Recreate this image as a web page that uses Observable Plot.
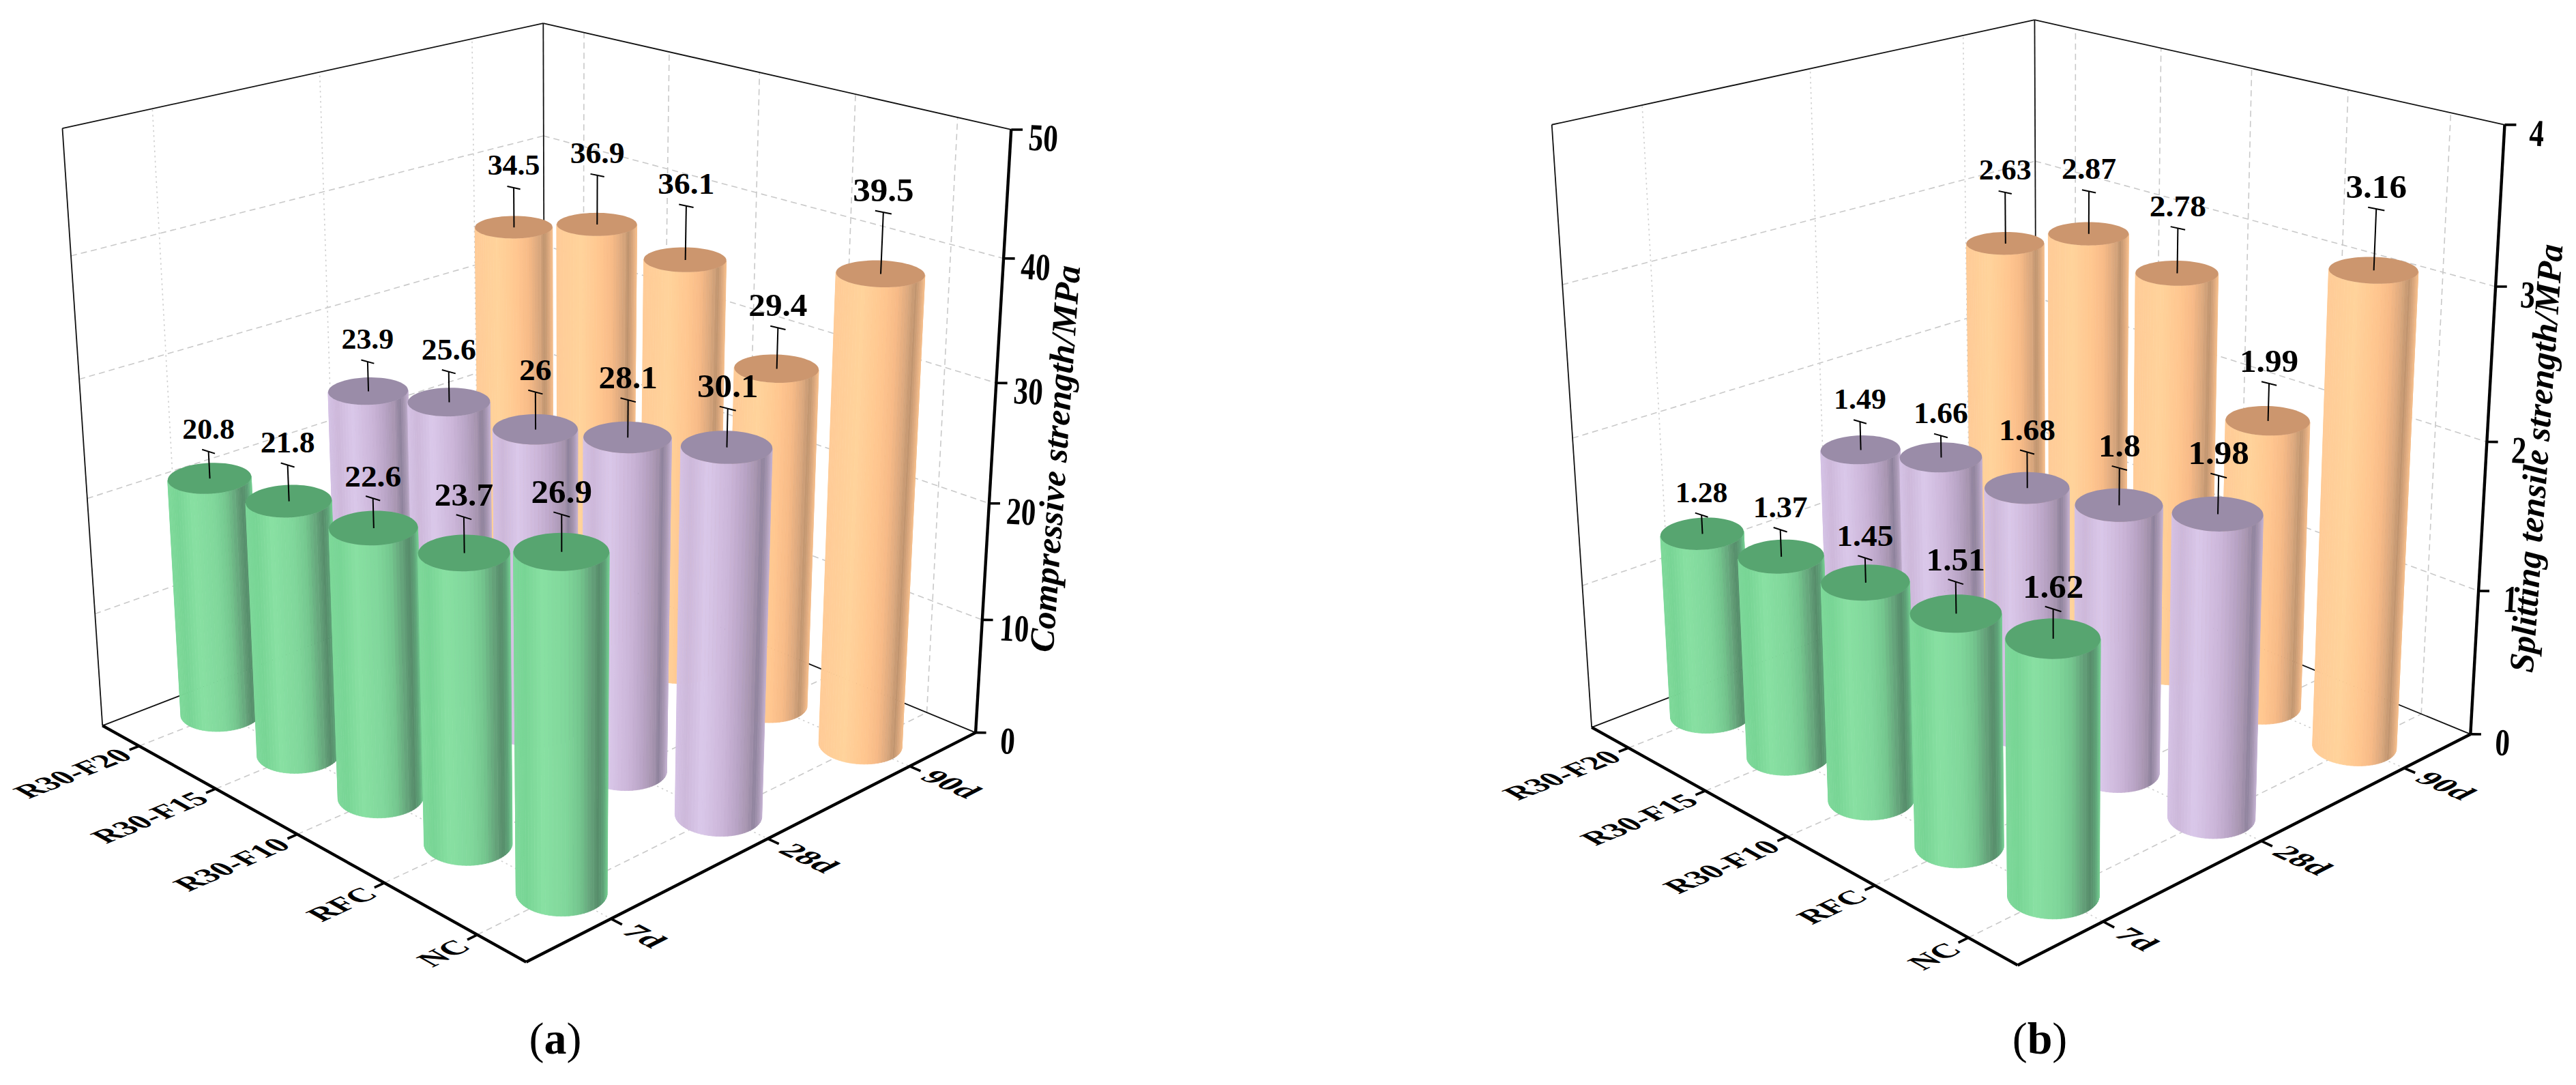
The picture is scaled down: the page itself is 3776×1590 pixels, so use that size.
<!DOCTYPE html>
<html>
<head>
<meta charset="utf-8">
<script src="https://cdn.jsdelivr.net/npm/d3@7"></script>
<script src="https://cdn.jsdelivr.net/npm/@observablehq/plot@0.6"></script>
<style>
html,body{margin:0;padding:0;background:#fff;}
#page{display:flex;width:3776px;height:1590px;}
.panel{width:1888px;height:1590px;position:relative;}
.panel svg{display:block;max-width:none;}
.cap{position:absolute;top:1474px;transform:translateX(-50%);font:66px "Liberation Serif",serif;color:#000;line-height:96px;}
</style>
</head>
<body>
<div id="page"></div>
<script>
const categories = ["R30-F20","R30-F15","R30-F10","RFC","NC"];
const ages = ["7d","28d","90d"];

const compressive7d  = [20.8,21.8,22.6,23.7,26.9];
const compressive28d = [23.9,25.6,26,28.1,30.1];
const compressive90d = [34.5,36.9,36.1,29.4,39.5];
const compressiveErr7d  = [2.3,3,2.4,2.8,2.8];
const compressiveErr28d = [2.6,2.6,3.1,3,3];
const compressiveErr90d = [3.5,4.2,4.5,3.4,4.8];
const compressiveTicks = [0,10,20,30,40,50];

const tensile7d  = [1.28,1.37,1.45,1.51,1.62];
const tensile28d = [1.49,1.66,1.68,1.8,1.98];
const tensile90d = [2.63,2.87,2.78,1.99,3.16];
const tensileErr7d  = [0.13,0.18,0.16,0.2,0.18];
const tensileErr28d = [0.2,0.15,0.24,0.24,0.24];
const tensileErr90d = [0.36,0.29,0.3,0.25,0.38];
const tensileTicks = [0,1,2,3,4];

const shadeStops  = [0,.12,.3,.55,.7,.83,.9,.96,1];
const sideGreen   = ["#7ED99A","#78D595","#88E0A2","#80D79B","#74C68E","#639F78","#568C6A","#5EA378","#72CC8F"];
const sidePurple  = ["#D5C2E5","#CDB8DA","#DAC8EA","#CBB5D8","#BAA5C7","#A795B0","#8E829C","#A898B4","#C3B0D0"];
const sideOrange  = ["#FFCB97","#FFCE98","#FFD39B","#FFC68F","#F7BA87","#D9A77D","#BF946F","#DDA97E","#F5BE8B"];
const sideRamps   = [sideGreen,sidePurple,sideOrange];
const topColors   = ["#57A570","#9A8CA8","#CC966E"];

// camera anchors: [X, Y, Z, screen x, screen y] for the corners of the unit box
const anchorsA = [[0,0,0,150.5,1062.7],[1,0,0,770.6,1409.5],[1,1,0,1430.4,1072.8],[0,1,0,797,813],
                  [0,0,1,90.3,187.6],[1,1,1,1481,189.6],[0,1,1,797,33.5]];
const anchorsB = [[0,0,0,445.5,1064.7],[1,0,0,1069,1414.5],[1,1,0,1733.8,1074.8],[0,1,0,1095.6,815],
                  [0,0,1,385.3,182.5],[1,1,1,1781.9,182.5],[0,1,1,1095.6,28.4]];

function fitCamera(anchors){
  const rows=[],rhs=[];
  for(const [X,Y,Z,u0,v0] of anchors){
    const u=u0/1000,v=v0/1000;
    rows.push([X,Y,Z,1,0,0,0,0,-u*X,-u*Y,-u*Z]);rhs.push(u);
    rows.push([0,0,0,0,X,Y,Z,1,-v*X,-v*Y,-v*Z]);rhs.push(v);
  }
  const n=11,A=[];
  for(let i=0;i<n;i++){
    const r=new Array(n+1).fill(0);
    for(let k=0;k<rows.length;k++){
      for(let j=0;j<n;j++) r[j]+=rows[k][i]*rows[k][j];
      r[n]+=rows[k][i]*rhs[k];
    }
    r[i]+=1e-10;
    A.push(r);
  }
  for(let i=0;i<n;i++){
    let p=i;for(let k=i+1;k<n;k++) if(Math.abs(A[k][i])>Math.abs(A[p][i])) p=k;
    [A[i],A[p]]=[A[p],A[i]];
    for(let k=0;k<n;k++) if(k!==i){
      const f=A[k][i]/A[i][i];
      for(let j=i;j<=n;j++) A[k][j]-=f*A[i][j];
    }
  }
  return A.map((r,i)=>r[n]/r[i]);
}

function panel(cfg){
  const P=fitCamera(cfg.anchors), W=1888, H=1474;
  const proj=(X,Y,Z)=>{const w=P[8]*X+P[9]*Y+P[10]*Z+1;
    return [1000*(P[0]*X+P[1]*Y+P[2]*Z+P[3])/w,1000*(P[4]*X+P[5]*Y+P[6]*Z+P[7])/w];};
  const catX=i=>(i+.5)/categories.length, ageY=j=>(j+.5)/ages.length;
  const zMax=cfg.ticks[cfg.ticks.length-1], zv=v=>v/zMax;
  const seg=(a,b)=>{const p=proj(...a),q=proj(...b);return {x1:p[0],y1:p[1],x2:q[0],y2:q[1]};};
  const link=(rows,o)=>Plot.link(rows,{x1:"x1",y1:"y1",x2:"x2",y2:"y2",...o});

  const gridZ=cfg.ticks.filter(t=>t>0&&t<zMax);
  const dashed=[
    ...gridZ.map(t=>seg([0,0,zv(t)],[0,1,zv(t)])),
    ...gridZ.map(t=>seg([0,1,zv(t)],[1,1,zv(t)])),
    ...categories.map((c,i)=>seg([catX(i),1,0],[catX(i),1,1])),
    ...categories.map((c,i)=>seg([catX(i),0,0],[catX(i),1,0]))
  ];
  const dotted=[
    ...ages.map((a,j)=>seg([0,ageY(j),0],[0,ageY(j),1])),
    ...ages.map((a,j)=>seg([0,ageY(j),0],[1,ageY(j),0]))
  ];
  const frame=[seg([0,0,0],[0,0,1]),seg([0,0,1],[0,1,1]),seg([0,1,1],[1,1,1]),
               seg([0,1,1],[0,1,0]),seg([0,0,0],[0,1,0]),seg([0,1,0],[1,1,0])];
  const axes=[seg([0,0,0],[1,0,0]),seg([1,0,0],[1,1,0]),seg([1,1,0],[1,1,1])];
  const ticks=[
    ...categories.map((c,i)=>seg([catX(i),0,0],[catX(i),-.019,0])),
    ...ages.map((a,j)=>seg([1,ageY(j),0],[1.022,ageY(j),0])),
    ...cfg.ticks.map(t=>seg([1,1,zv(t)],[1.012,1.012,zv(t)]))
  ];

  // text that lies in the chart's planes: its rows carry a 2x2 matrix applied after the plot is built
  const warpedRows=[];
  const warpText=(rows,o)=>{warpedRows.push(rows);
    return Plot.text(rows,{x:"x",y:"y",text:"text",fontWeight:"bold",fontFamily:"Liberation Serif",fill:"#000",...o});};

  const dir=(a,b)=>{const p=proj(...a),q=proj(...b),l=Math.hypot(q[0]-p[0],q[1]-p[1]);return [(q[0]-p[0])/l,(q[1]-p[1])/l];};
  const catLabels=categories.map((c,i)=>{
    const p=proj(catX(i)+.004,-.029,0);
    const u=dir([catX(i),0,0],[catX(i),1,0]), d=dir([catX(i),0,0],[1,0,0]);
    return {x:p[0],y:p[1],text:c,m:[u[0]*1.03,u[1]*1.03,d[0],d[1]]};
  });
  const ageLabels=ages.map((a,j)=>{
    const p=proj(1.035,ageY(j),0);
    const u=dir([0,ageY(j),0],[1,ageY(j),0]), d=dir([1,ageY(j),0],[1,0,0]);
    return {x:p[0],y:p[1],text:a,m:[u[0]*1.12,u[1]*1.12,d[0],d[1]]};
  });
  const zLabels=cfg.ticks.map(t=>{
    const p=proj(1,1,zv(t));
    const up=dir([1,1,zv(t)],[1,1,zv(t)+.1]);
    return {x:p[0],y:p[1],text:String(t),m:[1,.05,-up[0]*1.3,-up[1]*1.3]};
  });

  const marks=[
    link(dashed,{stroke:"#c9c9c9",strokeWidth:1.6,strokeDasharray:"9 6"}),
    link(dotted,{stroke:"#cfcfcf",strokeWidth:1.6,strokeDasharray:"2.5 5"}),
    link(frame,{stroke:"#111",strokeWidth:1.8})
  ];

  // cylinders, drawn from the back row forward
  const rad=.066, N=72;
  for(let j=ages.length-1;j>=0;j--){
    const shade=d3.scaleLinear().domain(shadeStops).range(sideRamps[j]).clamp(true);
    categories.forEach((c,i)=>{
      const X=catX(i),Y=ageY(j),v=cfg.values[j][i],Z=zv(v),e=cfg.errors[j][i];
      const pt=(th,z)=>proj(X+rad*Math.cos(th),Y+rad*Math.sin(th),z);
      const area=th0=>{const th1=th0+2*Math.PI/N;
        const a=pt(th0,0),b=pt(th1,0),c2=pt(th1,Z),d=pt(th0,Z);
        return (a[0]*b[1]-b[0]*a[1])+(b[0]*c2[1]-c2[0]*b[1])+(c2[0]*d[1]-d[0]*c2[1])+(d[0]*a[1]-a[0]*d[1]);};
      const sign=Math.sign(area(-Math.PI/4));
      const xs=d3.range(N).map(k=>pt(2*Math.PI*k/N,Z)[0]);
      const x0=d3.min(xs),x1=d3.max(xs);
      const facets=[];
      for(let k=0;k<N;k++){
        const th0=2*Math.PI*k/N,th1=2*Math.PI*(k+1)/N;
        if(area(th0)*sign<=0) continue;
        const t0=pt(th0,Z),t1=pt(th1,Z),b0=pt(th0,0),b1=pt(th1,0);
        const u=((t0[0]+t1[0])/2-x0)/(x1-x0);
        const fill=d3.color(shade(u)).formatHex();
        facets.push({k,fill,x1:t0[0],y1:t0[1],x2:b0[0],y2:b0[1]},{k,fill,x1:t1[0],y1:t1[1],x2:b1[0],y2:b1[1]});
      }
      marks.push(Plot.area(facets,{x1:"x1",y1:"y1",x2:"x2",y2:"y2",z:"k",fill:"fill",stroke:"fill",strokeWidth:.8}));
      const cap=d3.range(N/2+1).map(k=>{const th=2*Math.PI*k/N,a=pt(th,Z),b=pt(-th,Z);
        return {x1:a[0],y1:a[1],x2:b[0],y2:b[1]};});
      marks.push(Plot.area(cap,{x1:"x1",y1:"y1",x2:"x2",y2:"y2",fill:topColors[j]}));
      const Ze=zv(v+e);
      marks.push(link([seg([X,Y,Z],[X,Y,Ze]),seg([X-.014,Y-.002,Ze],[X+.014,Y+.002,Ze])],{stroke:"#000",strokeWidth:2}));
      const tp=proj(X,Y,Ze);
      marks.push(warpText([{x:tp[0],y:tp[1],text:String(v),m:[1,0,0,.95]}],{dy:-32,fontSize:43+9*X}));
    });
  }

  marks.push(
    link(axes,{stroke:"#000",strokeWidth:4.4}),
    link(ticks,{stroke:"#000",strokeWidth:3.6}),
    warpText(catLabels,{textAnchor:"end",fontSize:44}),
    warpText(ageLabels,{textAnchor:"start",fontSize:44}),
    warpText(zLabels,{dx:47,dy:13,fontSize:43})
  );
  const tt=proj(1,1,.5);
  marks.push(Plot.text([{x:tt[0],y:tt[1],text:cfg.title}],{x:"x",y:"y",text:"text",dx:cfg.titleDx,dy:cfg.titleDy,rotate:-86,
    fontSize:51,fontWeight:"bold",fontStyle:"italic",fontFamily:"Liberation Serif",fill:"#000"}));

  const svg=Plot.plot({width:W,height:H,margin:0,
    x:{domain:[0,W],range:[0,W],axis:null},
    y:{domain:[0,H],range:[0,H],axis:null},
    color:{type:"identity"},
    style:{background:"#fff"},
    marks});
  const sx=svg.scale("x"), sy=svg.scale("y");
  const groups=[...svg.querySelectorAll("g")].filter(g=>g.querySelector(":scope > text"));
  warpedRows.forEach((rows,n)=>{
    groups[n].querySelectorAll("text").forEach((e,k)=>{
      const r=rows[k];
      e.setAttribute("transform",`translate(${sx.apply(r.x)},${sy.apply(r.y)}) matrix(${r.m.join(",")},0,0)`);
    });
  });
  const div=document.createElement("div");div.className="panel";
  div.appendChild(svg);
  const capEl=document.createElement("div");capEl.className="cap";capEl.style.left=cfg.capX+"px";
  capEl.innerHTML=`(<b>${cfg.cap}</b>)`;
  div.appendChild(capEl);
  document.getElementById("page").appendChild(div);
}

panel({anchors:anchorsA,ticks:compressiveTicks,
  values:[compressive7d,compressive28d,compressive90d],
  errors:[compressiveErr7d,compressiveErr28d,compressiveErr90d],
  title:"Compressive strength/MPa",titleDx:92,titleDy:22,cap:"a",capX:814});
panel({anchors:anchorsB,ticks:tensileTicks,
  values:[tensile7d,tensile28d,tensile90d],
  errors:[tensileErr7d,tensileErr28d,tensileErr90d],
  title:"Splitting tensile strength/MPa",titleDx:73,titleDy:24,cap:"b",capX:1102});
</script>
</body>
</html>
